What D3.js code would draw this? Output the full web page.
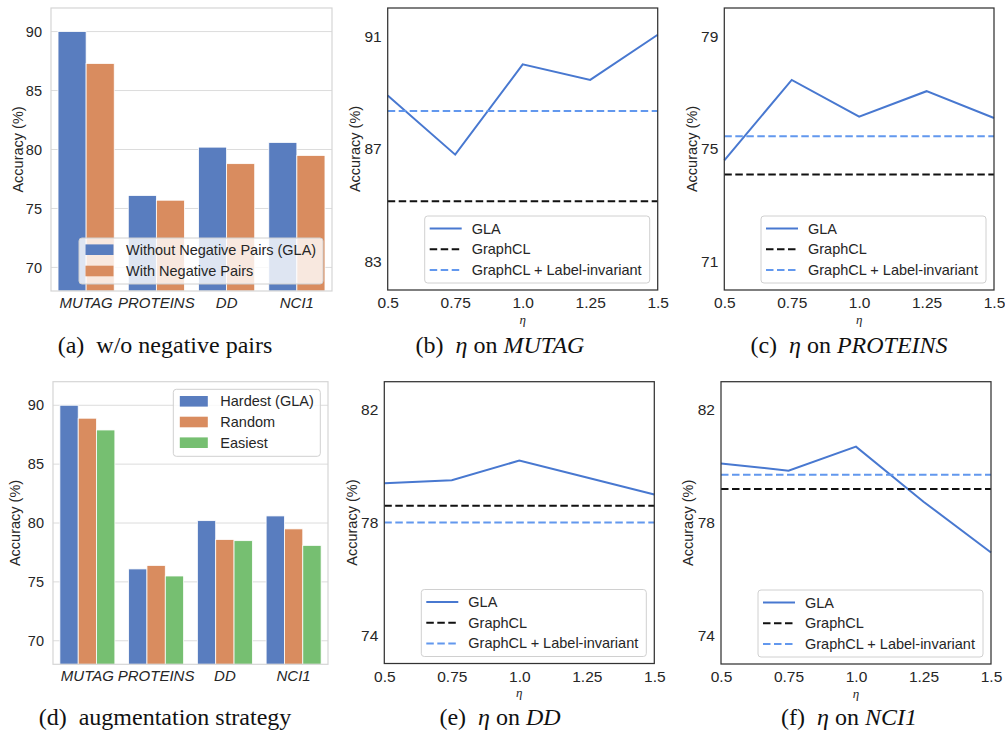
<!DOCTYPE html>
<html>
<head>
<meta charset="utf-8">
<script src="https://cdn.jsdelivr.net/npm/d3@7"></script>
<style>
  body { margin: 0; background: #fff; }
  svg text { font-family: "Liberation Sans", Arial, sans-serif; fill: #262626; }
  .cap text, text.cap { font-family: "Liberation Serif", "Times New Roman", serif; }
</style>
</head>
<body>
<div id="chart"></div>
<script>
// data
const datasets = ["MUTAG", "PROTEINS", "DD", "NCI1"];
const negSeries = ["Without Negative Pairs (GLA)", "With Negative Pairs"];
const withoutNeg = [90.0, 76.1, 80.2, 80.6];
const withNeg = [87.3, 75.7, 78.8, 79.5];
const strategySeries = ["Hardest (GLA)", "Random", "Easiest"];
const hardest = [90.0, 76.1, 80.2, 80.6];
const randomAug = [88.9, 76.4, 78.6, 79.5];
const easiest = [87.9, 75.5, 78.5, 78.1];
const barTicks = [70, 75, 80, 85, 90];

const etas = [0.5, 0.75, 1.0, 1.25, 1.5];
const etaLabels = ["0.5", "0.75", "1.0", "1.25", "1.5"];
const lineSeries = ["GLA", "GraphCL", "GraphCL + Label-invariant"];
const glaMUTAG = [88.9, 86.8, 90.0, 89.45, 91.05];
const glaPROTEINS = [74.6, 77.45, 76.15, 77.05, 76.1];
const glaDD = [79.4, 79.5, 80.2, 79.6, 79.0];
const glaNCI1 = [80.1, 79.85, 80.7, 78.75, 76.95];
const graphcl = [85.15, 74.1, 78.6, 79.2];
const graphclLabelInv = [88.35, 75.45, 78.0, 79.7];
const ticksMUTAG = [83, 87, 91];
const ticksPROTEINS = [71, 75, 79];
const ticksDD = [74, 78, 82];
const ticksNCI1 = [74, 78, 82];

const barColors = ["#597dbf", "#d98c5f", "#76bf71"];
const lineColors = ["#4878d0", "#111111", "#6298ee"];

const svg = d3.select("#chart").append("svg")
  .attr("width", 1005).attr("height", 731);

function barPanel(box, series, values, legendPos) {
  const g = svg.append("g");
  const x = d3.scaleBand().domain(datasets).range([box.l, box.r]).paddingInner(0.2).paddingOuter(0.1);
  const y = d3.scaleLinear().domain([68, 92]).range([box.b, box.t]);
  // grid
  g.selectAll(".grid").data(barTicks).enter().append("line")
    .attr("x1", box.l).attr("x2", box.r)
    .attr("y1", d => y(d)).attr("y2", d => y(d))
    .attr("stroke", "#dcdcdc").attr("stroke-width", 1);
  const inner = d3.scaleBand().domain(d3.range(series.length)).range([0, x.bandwidth()]);
  values.forEach((vals, si) => {
    g.selectAll(".bar" + si).data(vals).enter().append("rect")
      .attr("x", (d, i) => x(datasets[i]) + inner(si))
      .attr("width", inner.bandwidth())
      .attr("y", d => y(d))
      .attr("height", d => box.b - y(d))
      .attr("fill", barColors[si])
      .attr("stroke", "#fff").attr("stroke-width", 0.8);
  });
  g.append("rect").attr("x", box.l).attr("y", box.t)
    .attr("width", box.r - box.l).attr("height", box.b - box.t)
    .attr("fill", "none").attr("stroke", "#d5d5d5").attr("stroke-width", 1.2);
  const ya = g.append("g").attr("transform", "translate(" + box.l + ",0)")
    .call(d3.axisLeft(y).tickValues(barTicks).tickSize(0).tickPadding(9));
  ya.select(".domain").remove();
  ya.selectAll("text").style("font-size", "14.5px").style("fill", "#262626");
  const xa = g.append("g").attr("transform", "translate(0," + box.b + ")")
    .call(d3.axisBottom(x).tickSize(0).tickPadding(6));
  xa.select(".domain").remove();
  xa.selectAll("text").style("font-size", "15px").style("font-style", "italic").style("fill", "#262626");
  g.append("text")
    .attr("transform", "translate(" + box.yl + "," + (box.t + box.b) / 2 + ") rotate(-90)")
    .attr("text-anchor", "middle").attr("dy", "0.35em")
    .style("font-size", "14.5px").text("Accuracy (%)");
  // legend
  const lg = g.append("g").attr("transform", "translate(" + legendPos.x + "," + legendPos.y + ")");
  lg.append("rect").attr("width", legendPos.w).attr("height", legendPos.h)
    .attr("rx", 3).attr("fill", "#fff").attr("fill-opacity", 0.8)
    .attr("stroke", "#d0d0d0").attr("stroke-width", 1);
  series.forEach((s, i) => {
    const cy = legendPos.r0 + i * legendPos.dy;
    lg.append("rect").attr("x", 6.5).attr("y", cy - 5.3).attr("width", 28).attr("height", 10.6)
      .attr("fill", barColors[i]);
    lg.append("text").attr("x", 47).attr("y", cy).attr("dy", "0.35em")
      .style("font-size", "14.5px").text(s);
  });
}

function linePanel(box, gla, idx, ticks, ydom) {
  const g = svg.append("g");
  const x = d3.scaleLinear().domain([0.5, 1.5]).range([box.l, box.r]);
  const y = d3.scaleLinear().domain(ydom).range([box.b, box.t]);
  const line = d3.line().x(d => x(d[0])).y(d => y(d[1]));
  g.append("path").datum(etas.map((e, i) => [e, gla[i]]))
    .attr("d", line).attr("fill", "none")
    .attr("stroke", lineColors[0]).attr("stroke-width", 2);
  g.append("path").datum([[0.5, graphcl[idx]], [1.5, graphcl[idx]]])
    .attr("d", line).attr("fill", "none")
    .attr("stroke", lineColors[1]).attr("stroke-width", 2).attr("stroke-dasharray", "7.5,3.5");
  g.append("path").datum([[0.5, graphclLabelInv[idx]], [1.5, graphclLabelInv[idx]]])
    .attr("d", line).attr("fill", "none")
    .attr("stroke", lineColors[2]).attr("stroke-width", 2).attr("stroke-dasharray", "7.5,3.5");
  g.append("rect").attr("x", box.l).attr("y", box.t)
    .attr("width", box.r - box.l).attr("height", box.b - box.t)
    .attr("fill", "none").attr("stroke", "#333").attr("stroke-width", 1.25);
  const ya = g.append("g").attr("transform", "translate(" + box.l + ",0)")
    .call(d3.axisLeft(y).tickValues(ticks).tickSize(0).tickPadding(6));
  ya.select(".domain").remove();
  ya.selectAll("text").style("font-size", "15.5px").style("fill", "#262626");
  const xa = g.append("g").attr("transform", "translate(0," + box.b + ")")
    .call(d3.axisBottom(x).tickValues(etas).tickFormat((d, i) => etaLabels[i]).tickSize(0).tickPadding(7));
  xa.select(".domain").remove();
  xa.selectAll("text").style("font-size", "15.5px").style("fill", "#262626");
  g.append("text").attr("class", "cap")
    .attr("x", (box.l + box.r) / 2).attr("y", box.b + 29)
    .attr("text-anchor", "middle").attr("dy", "0.35em")
    .style("font-size", "13px").style("font-style", "italic").text("η");
  g.append("text")
    .attr("transform", "translate(" + box.yl + "," + (box.t + box.b) / 2 + ") rotate(-90)")
    .attr("text-anchor", "middle").attr("dy", "0.35em")
    .style("font-size", "14.5px").text("Accuracy (%)");
  // legend, lower right
  const lw = 225, lh = 67;
  const lg = g.append("g").attr("transform", "translate(" + (box.r - 8 - lw) + "," + (box.b - 7 - lh) + ")");
  lg.append("rect").attr("width", lw).attr("height", lh).attr("rx", 3)
    .attr("fill", "#fff").attr("fill-opacity", 0.8)
    .attr("stroke", "#d0d0d0").attr("stroke-width", 1);
  lineSeries.forEach((s, i) => {
    const cy = 12.5 + i * 20.7;
    lg.append("line").attr("x1", 5).attr("x2", 37).attr("y1", cy).attr("y2", cy)
      .attr("stroke", lineColors[i]).attr("stroke-width", 2)
      .attr("stroke-dasharray", i === 0 ? null : "7.5,3.5");
    lg.append("text").attr("x", 47).attr("y", cy).attr("dy", "0.35em")
      .style("font-size", "14.5px").text(s);
  });
}

barPanel({l: 51, r: 332, t: 8, b: 291, yl: 18}, negSeries, [withoutNeg, withNeg],
  {x: 79, y: 238, w: 244, h: 46, r0: 11.7, dy: 21.3});
barPanel({l: 53, r: 328, t: 381.7, b: 664.3, yl: 15}, strategySeries, [hardest, randomAug, easiest],
  {x: 173.3, y: 389.3, w: 147, h: 67, r0: 12, dy: 20.7});

linePanel({l: 387.7, r: 657.7, t: 8, b: 290, yl: 355}, glaMUTAG, 0, ticksMUTAG, [82, 92]);
linePanel({l: 724.3, r: 994, t: 8, b: 290, yl: 691.7}, glaPROTEINS, 1, ticksPROTEINS, [70, 80]);
linePanel({l: 384.3, r: 654.3, t: 381.7, b: 663.5, yl: 351.7}, glaDD, 2, ticksDD, [73, 83]);
linePanel({l: 721, r: 991, t: 381.7, b: 664, yl: 688}, glaNCI1, 3, ticksNCI1, [73, 83]);

// sub-figure captions
const captions = [
  {x: 165, y: 353, parts: [["(a)\u2002w/o negative pairs", "normal"]]},
  {x: 500, y: 353, parts: [["(b)\u2002", "normal"], ["η", "italic"], [" on ", "normal"], ["MUTAG", "italic"]]},
  {x: 849, y: 353, parts: [["(c)\u2002", "normal"], ["η", "italic"], [" on ", "normal"], ["PROTEINS", "italic"]]},
  {x: 165, y: 725, parts: [["(d)\u2002augmentation strategy", "normal"]]},
  {x: 500, y: 725, parts: [["(e)\u2002", "normal"], ["η", "italic"], [" on ", "normal"], ["DD", "italic"]]},
  {x: 849, y: 725, parts: [["(f)\u2002", "normal"], ["η", "italic"], [" on ", "normal"], ["NCI1", "italic"]]}
];
captions.forEach(c => {
  const t = svg.append("text").attr("class", "cap")
    .attr("x", c.x).attr("y", c.y).attr("text-anchor", "middle")
    .style("font-size", "24px").style("fill", "#111");
  c.parts.forEach(p => t.append("tspan").style("font-style", p[1]).text(p[0]));
});
</script>
</body>
</html>
